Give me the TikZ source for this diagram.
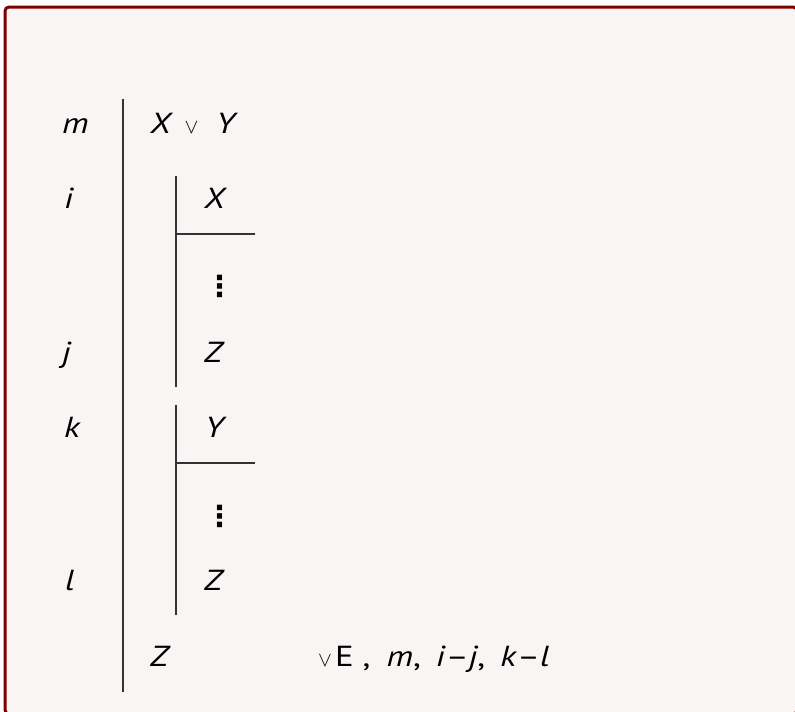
\documentclass[tikz,border=0pt]{standalone}
\usepackage{fontspec}
\setmainfont{PT Sans}[FakeStretch=1.2]
\newfontfamily\symfont{DejaVu Sans}
\definecolor{framered}{HTML}{800000}
\definecolor{paper}{HTML}{F9F5F4}
\definecolor{barcol}{HTML}{333333}
\newcommand{\orsym}{{\upshape\fontsize{21}{24}\selectfont$\vee$}}
\begin{document}
\begin{tikzpicture}[x=1pt,y=-1pt,
  txt/.style={anchor=base west,inner sep=0pt,font=\fontsize{29}{34}\selectfont},
  bar/.style={draw=barcol,line width=1.4pt},
  frame/.style={draw=framered,line width=3pt,fill=paper}]
\useasboundingbox (0,0) rectangle (795,712);
\fill[white] (0,0) rectangle (795,712);
\draw[frame,rounded corners=4pt] (5,7) rectangle (797,714);
% line numbers
\node[txt] (lm) at (62,133) {\itshape m};
\node[txt] (li) at (64,208) {\itshape i};
\node[txt] (lj) at (62,362) {\itshape j};
\node[txt] (lk) at (64,437) {\itshape k};
\node[txt] (ll) at (65,590) {\itshape l};
% formulas
\node[txt] (fxy) at (150,133) {\itshape X\hspace{14pt}\orsym\hspace{18pt}Y};
\node[txt] (fx) at (204,208) {\itshape X};
\node[txt] (d1) at (205,296) {\symfont\bfseries ⋮};
\node[txt] (fz1) at (204,362) {\itshape Z};
\node[txt] (fy) at (205,437) {\itshape Y};
\node[txt] (d2) at (205,526) {\symfont\bfseries ⋮};
\node[txt] (fz2) at (204,590) {\itshape Z};
\node[txt] (fz) at (150,666) {\itshape Z};
\node[txt] (just) at (318,666) {\orsym\hspace{3pt}E\hspace{9pt},\hspace{16pt}\textit{m},\hspace{15pt}\textit{i}–\textit{j},\hspace{15pt}\textit{k}–\textit{l}};
% bars
\coordinate (o1) at (123,99);
\coordinate (o2) at (123,692);
\coordinate (a1) at (176,176);
\coordinate (a2) at (176,387);
\coordinate (ah) at (255,234);
\coordinate (b1) at (176,405);
\coordinate (b2) at (176,615);
\coordinate (bh) at (255,463);
\draw[bar] (o1) -- (o2);
\draw[bar] (a1) -- (a2);
\draw[bar] (a1 |- ah) -- (ah);
\draw[bar] (b1) -- (b2);
\draw[bar] (b1 |- bh) -- (bh);
\end{tikzpicture}
\end{document}
